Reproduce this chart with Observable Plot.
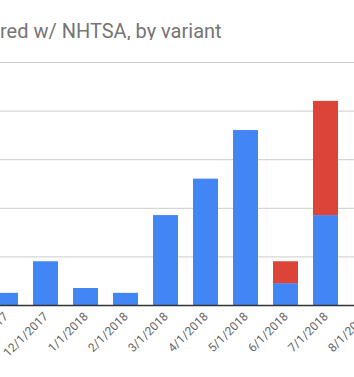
<!DOCTYPE html>
<html>
<head>
<meta charset="utf-8">
<script src="https://cdn.jsdelivr.net/npm/d3@7"></script>
<script src="https://cdn.jsdelivr.net/npm/@observablehq/plot@0.6"></script>
<style>
  html, body { margin: 0; padding: 0; background: #fff; }
  #wrap { position: relative; width: 354px; height: 377px; overflow: hidden; background: #fff; }
  #title { position: absolute; left: 0; top: 19px; font: 20px Roboto, sans-serif; line-height: 24px; color: #757575; white-space: nowrap; }
  #chart { position: absolute; left: -26.5px; top: 40px; }
</style>
</head>
<body>
<div id="wrap">
  <div id="title">red w/ NHTSA, by variant</div>
  <div id="chart"></div>
</div>
<script>
const months = ["11/1/2017","12/1/2017","1/1/2018","2/1/2018","3/1/2018","4/1/2018","5/1/2018","6/1/2018","7/1/2018","8/1/2018"];
const variants = ["Variant 1", "Variant 2"];
const variant1 = [5, 18, 7, 5, 37, 52, 72, 9, 37, null];
const variant2 = [0, 0, 0, 0, 0, 0, 0, 9, 47, null];
const gridTicks = [20, 40, 60, 80, 100];
const colors = ["#4285F4", "#DB4437"];

const rows = [];
months.forEach((m, i) => {
  if (variant1[i] != null) rows.push({month: m, variant: variants[0], value: variant1[i]});
  if (variant2[i] != null && variant2[i] > 0) rows.push({month: m, variant: variants[1], value: variant2[i]});
});

const plot = Plot.plot({
  width: 424,
  height: 345,
  marginLeft: 0,
  marginRight: 0,
  marginTop: 22,
  marginBottom: 80,
  style: {fontFamily: "Roboto, sans-serif", fontSize: "12px", color: "#666", background: "#fff", maxWidth: "none", overflow: "visible"},
  x: {domain: months, padding: 0.37, tickRotate: -45, tickSize: 0, tickPadding: 9, label: null},
  y: {domain: [0, 100], axis: null},
  color: {domain: variants, range: colors},
  marks: [
    Plot.ruleY(gridTicks, {stroke: "#cccccc", strokeWidth: 1}),
    Plot.barY(rows, {x: "month", y: "value", fill: "variant", order: variants}),
    Plot.ruleY([0], {stroke: "#333", strokeWidth: 1.5})
  ]
});
document.getElementById("chart").appendChild(plot);
</script>
</body>
</html>
